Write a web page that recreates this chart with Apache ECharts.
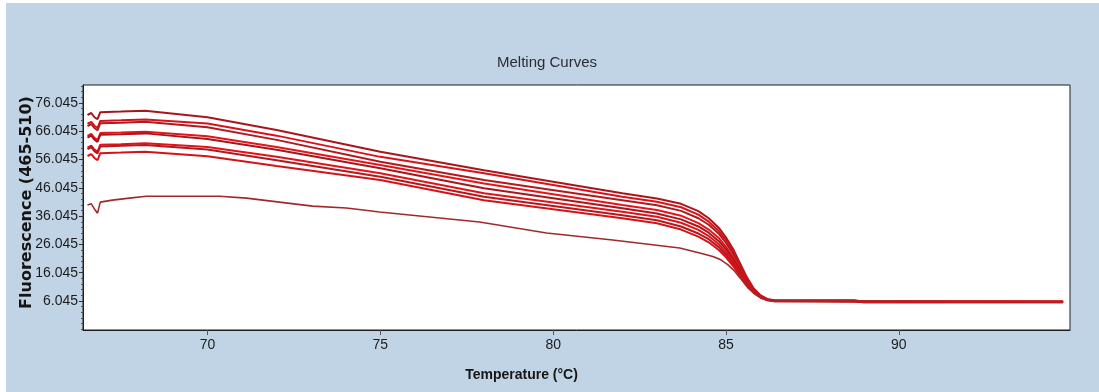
<!DOCTYPE html>
<html>
<head>
<meta charset="utf-8">
<script src="https://cdn.jsdelivr.net/npm/echarts@6/dist/echarts.min.js"></script>
<style>
  html, body { margin: 0; padding: 0; background: #ffffff; width: 1099px; height: 392px; overflow: hidden; }
  #chart { position: absolute; left: 6px; top: 3px; width: 1093px; height: 389px; }
</style>
</head>
<body>
<div id="chart"></div>
<script>
// Temperatures (°C) sampled for the high-signal melting curves
const temps = [66.53, 66.64, 66.73, 66.82, 66.9, 67.5, 68.2, 70, 72, 75, 78,
               82, 83, 83.7, 84.2, 84.5, 84.8, 85.0, 85.2, 85.4, 85.6, 85.8, 86.0, 86.2, 86.4,
               88.7, 89.0, 94.75];

// Fluorescence (465-510) for each sample
const curve1 = [71.8, 72.5, 71.0, 70.3, 72.8, 73.0, 73.3, 71.0, 66.5, 58.8, 52.3,
                44.1, 42.3, 40.4, 37.8, 35.3, 31.8, 28.5, 24.5, 19.5, 14.5, 10.5, 8.0, 6.7, 6.3,
                6.2, 5.9, 5.9];
const curve2 = [68.7, 69.4, 68.0, 67.2, 69.7, 69.9, 70.2, 68.8, 64.5, 57.0, 51.2,
                42.9, 41.1, 39.2, 36.6, 34.1, 30.7, 27.6, 23.7, 18.9, 14.1, 10.3, 7.9, 6.6, 6.3,
                6.2, 5.9, 5.9];
const curve3 = [67.9, 68.6, 67.2, 66.4, 68.9, 69.1, 69.4, 67.5, 63.0, 55.3, 48.8,
                41.7, 39.9, 37.9, 35.3, 33.0, 29.7, 26.6, 22.9, 18.3, 13.7, 10.1, 7.8, 6.6, 6.2,
                6.1, 5.8, 5.8];
const curve4 = [64.4, 65.1, 63.7, 62.9, 65.4, 65.6, 65.9, 64.3, 60.5, 54.1, 47.6,
                40.0, 38.2, 36.2, 33.6, 31.3, 28.2, 25.2, 21.7, 17.4, 13.1, 9.8, 7.6, 6.5, 6.2,
                6.1, 5.8, 5.8];
const curve5 = [63.8, 64.5, 63.1, 62.3, 64.8, 65.0, 65.3, 63.3, 59.5, 53.0, 45.9,
                38.8, 37.0, 34.9, 32.4, 30.2, 27.1, 24.3, 20.9, 16.8, 12.7, 9.5, 7.5, 6.5, 6.1,
                6.0, 5.7, 5.7];
const curve6 = [60.3, 61.0, 59.6, 58.8, 61.3, 61.5, 61.8, 60.5, 57.0, 51.2, 44.1,
                37.6, 35.8, 33.7, 31.2, 29.0, 26.0, 23.3, 20.1, 16.2, 12.3, 9.3, 7.4, 6.4, 6.1,
                6.0, 5.7, 5.7];
const curve7 = [59.7, 60.4, 59.0, 58.2, 60.7, 60.9, 61.2, 59.6, 55.8, 50.0, 42.9,
                36.4, 34.6, 32.4, 29.9, 27.9, 25.0, 22.4, 19.3, 15.6, 11.9, 9.1, 7.3, 6.4, 6.0,
                5.9, 5.6, 5.6];
const curve8 = [57.3, 58.0, 56.6, 55.8, 58.3, 58.5, 58.8, 57.2, 53.8, 48.8, 41.7,
                35.3, 33.5, 31.3, 28.8, 26.8, 24.0, 21.5, 18.5, 15.0, 11.5, 8.9, 7.2, 6.3, 6.0,
                5.9, 5.6, 5.6];

// Low-signal sample
const lowTemps  = [66.53, 66.64, 66.73, 66.82, 66.9, 67.25, 67.74, 68.23, 70.35, 71.13, 72.08, 73.04, 74.02, 74.98,
                   77.87, 79.81, 81.72, 83.66, 84.24, 84.62, 84.85, 85.05, 85.25, 85.45, 85.65, 85.85, 86.05, 86.3, 94.75];
const lowValues = [40.0, 40.4, 38.6, 37.1, 41.0, 41.7, 42.4, 43.1, 43.1, 42.4, 41.0, 39.6, 38.9, 37.5,
                   34.0, 30.1, 27.6, 24.8, 23.0, 21.8, 20.6, 18.9, 16.6, 13.6, 10.5, 8.4, 7.1, 6.2, 5.8];

// Axis ticks
const yTicks = [6.045, 16.045, 26.045, 36.045, 46.045, 56.045, 66.045, 76.045];
const xTicks = [70, 75, 80, 85, 90];

const Y_MIN = -4.2, Y_MAX = 82.4;
const X_MIN = 66.4, X_MAX = 94.95;

// minor tick marks every 2 units between the labelled ticks
const yMinor = [];
for (let v = yTicks[0] - 10; v <= Y_MAX; v += 2) {
  if (v >= Y_MIN && !yTicks.some(t => Math.abs(t - v) < 1e-6)) yMinor.push(v);
}

const SANS = "'Liberation Sans', Arial, sans-serif";

const upperCurves = [curve1, curve2, curve3, curve4, curve5, curve6, curve7, curve8];
const curveColors = ['#a8161c', '#d8121a', '#b01a1e', '#e3141a', '#a8161c', '#e0121a', '#b3181d', '#d41318'];

const series = upperCurves.map((vals, i) => ({
  type: 'line',
  name: 'Sample ' + (i + 1),
  data: temps.map((t, k) => [t, vals[k]]),
  symbol: 'none',
  lineStyle: { width: 2, color: curveColors[i] },
  itemStyle: { color: curveColors[i] },
  z: 3
}));
series.push({
  type: 'line',
  name: 'Sample 9',
  data: lowTemps.map((t, k) => [t, lowValues[k]]),
  symbol: 'none',
  lineStyle: { width: 1.6, color: '#a3282a' },
  itemStyle: { color: '#a3282a' },
  z: 3
});

const chart = echarts.init(document.getElementById('chart'), null, { renderer: 'canvas' });
chart.setOption({
  animation: false,
  backgroundColor: '#c1d4e5',
  title: {
    text: 'Melting Curves',
    left: 486,
    top: 47,
    textStyle: { fontFamily: SANS, fontSize: 15, fontWeight: 'normal', color: '#2b2b38' }
  },
  grid: {
    left: 77, top: 82, right: 29, bottom: 62,
    outerBoundsMode: 'none',
    containLabel: false,
    show: true, backgroundColor: '#ffffff', borderColor: '#1e1e1e', borderWidth: 1
  },
  xAxis: {
    type: 'value',
    min: X_MIN, max: X_MAX,
    name: 'Temperature (°C)',
    nameLocation: 'middle',
    nameGap: 38,
    nameMoveOverlap: false,
    nameTextStyle: { fontFamily: SANS, fontSize: 14, fontWeight: 'bold', color: '#151515', padding: [0, 110, 0, 0] },
    axisLine: { show: true, onZero: false, lineStyle: { color: '#1e1e1e', width: 1 } },
    axisTick: { show: true, length: 5, customValues: xTicks, lineStyle: { color: '#555' } },
    axisLabel: { customValues: xTicks, margin: 8, fontFamily: SANS, fontSize: 14, color: '#1c1c1c' },
    splitLine: { show: false }
  },
  yAxis: [{
    type: 'value',
    min: Y_MIN, max: Y_MAX,
    name: 'Fluorescence (465-510)',
    nameLocation: 'middle',
    nameGap: 48,
    nameMoveOverlap: false,
    nameTextStyle: { fontFamily: "'DejaVu Sans', sans-serif", fontSize: 16, fontWeight: 'bold', color: '#151515', padding: [0, 0, 0, 10] },
    axisLine: { show: true, onZero: false, lineStyle: { color: '#1e1e1e', width: 1 } },
    axisTick: { show: true, length: 4, customValues: yTicks, lineStyle: { color: '#333' } },
    axisLabel: {
      customValues: yTicks, margin: 5, fontFamily: SANS, fontSize: 14, color: '#1c1c1c',
      formatter: v => v.toFixed(3)
    },
    splitLine: { show: false }
  }, {
    type: 'value',
    min: Y_MIN, max: Y_MAX,
    position: 'left',
    axisLine: { show: false, onZero: false },
    axisTick: { show: true, length: 2, customValues: yMinor, lineStyle: { color: '#555' } },
    axisLabel: { show: false },
    splitLine: { show: false }
  }],
  series: series
});
</script>
</body>
</html>
